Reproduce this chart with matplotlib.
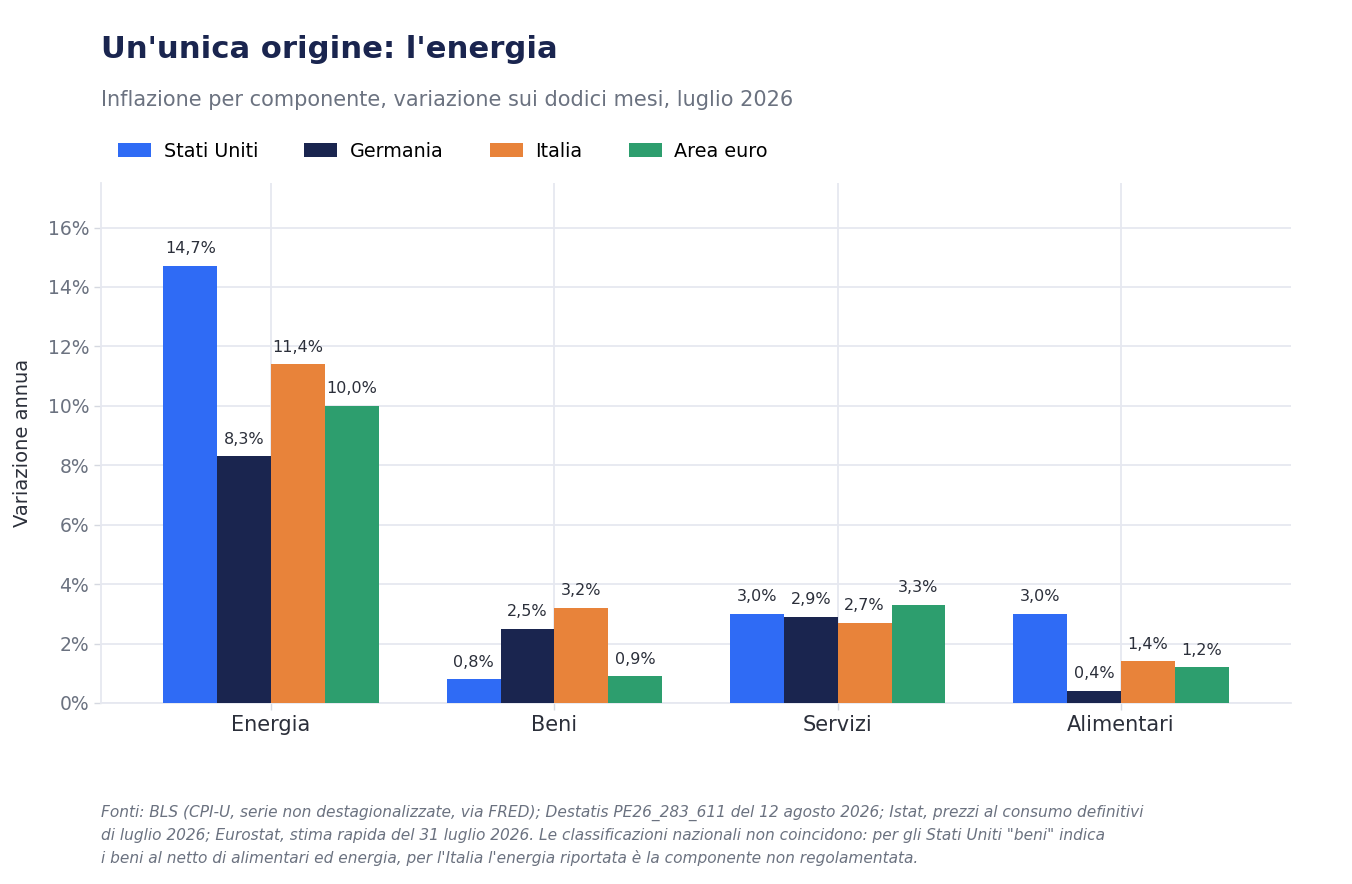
import matplotlib
matplotlib.use("Agg")
import matplotlib.pyplot as plt
import numpy as np
from matplotlib.patches import Patch

categories = ["Energia", "Beni", "Servizi", "Alimentari"]
series_names = ["Stati Uniti", "Germania", "Italia", "Area euro"]
stati_uniti = [14.7, 0.8, 3.0, 3.0]
germania = [8.3, 2.5, 2.9, 0.4]
italia = [11.4, 3.2, 2.7, 1.4]
area_euro = [10.0, 0.9, 3.3, 1.2]
yticks = [0, 2, 4, 6, 8, 10, 12, 14, 16]

colors = ["#2F6BF5", "#1A254F", "#E8833A", "#2D9E6E"]
series = [stati_uniti, germania, italia, area_euro]

plt.rcParams['font.family'] = ['DejaVu Sans']
fig = plt.figure(figsize=(13.52, 8.84), dpi=100)
ax = fig.add_axes([101/1352, 1-703/884, (1291-101)/1352, (703-183)/884])

x = np.arange(len(categories))
w = 0.19
for i, (vals, col, name) in enumerate(zip(series, colors, series_names)):
    bars = ax.bar(x + (i - 1.5) * w, vals, width=w, color=col, label=name, zorder=3)
    ax.bar_label(bars, labels=[f"{v:.1f}%".replace(".", ",") for v in vals],
                 padding=7, fontsize=11.5, color="#2b2f3a")

ax.set_xlim(-0.6, 3.6)
ax.set_ylim(0, 17.5)
ax.set_xticks(x)
ax.set_xticklabels(categories, fontsize=15, color="#2b2f3a")
ax.set_yticks(yticks)
ax.set_yticklabels([f"{t}%" for t in yticks], fontsize=13.5, color="#6b7280")
ax.tick_params(axis='both', color="#d5d8e0", length=5, width=1)
ax.tick_params(axis='x', pad=3.5)
ax.grid(True, color="#e6e8f0", linewidth=1.3, zorder=0)
ax.set_axisbelow(True)
for s in ["top", "right"]:
    ax.spines[s].set_visible(False)
for s in ["left", "bottom"]:
    ax.spines[s].set_color("#e6e8f0")
    ax.spines[s].set_linewidth(1.3)
ax.set_ylabel("Variazione annua", fontsize=14, color="#2b2f3a", labelpad=11.5)

fig.text(101/1352, 1-49/884, "Un'unica origine: l'energia", fontsize=22.1,
         fontweight="bold", color="#1A254F", va="center", ha="left")
fig.text(101/1352, 1-100/884,
         "Inflazione per componente, variazione sui dodici mesi, luglio 2026",
         fontsize=15.0, color="#6b7280", va="center", ha="left")

handles = [Patch(facecolor=c, label=n) for c, n in zip(colors, series_names)]
fig.legend(handles=handles, loc="center left", bbox_to_anchor=(101/1352, 1-151.5/884),
           ncol=4, frameon=False, fontsize=13.8, handlelength=1.7, handleheight=0.72,
           columnspacing=2.42, handletextpad=0.67)

fig.text(101/1352, 1-805/884,
         "Fonti: BLS (CPI-U, serie non destagionalizzate, via FRED); Destatis PE26_283_611 del 12 agosto 2026; Istat, prezzi al consumo definitivi\n"
         "di luglio 2026; Eurostat, stima rapida del 31 luglio 2026. Le classificazioni nazionali non coincidono: per gli Stati Uniti \"beni\" indica\n"
         "i beni al netto di alimentari ed energia, per l'Italia l'energia riportata è la componente non regolamentata.",
         fontsize=11.05, style="italic", color="#6b7280", va="top", ha="left", linespacing=1.55)

fig.savefig("out.png", dpi=100)
